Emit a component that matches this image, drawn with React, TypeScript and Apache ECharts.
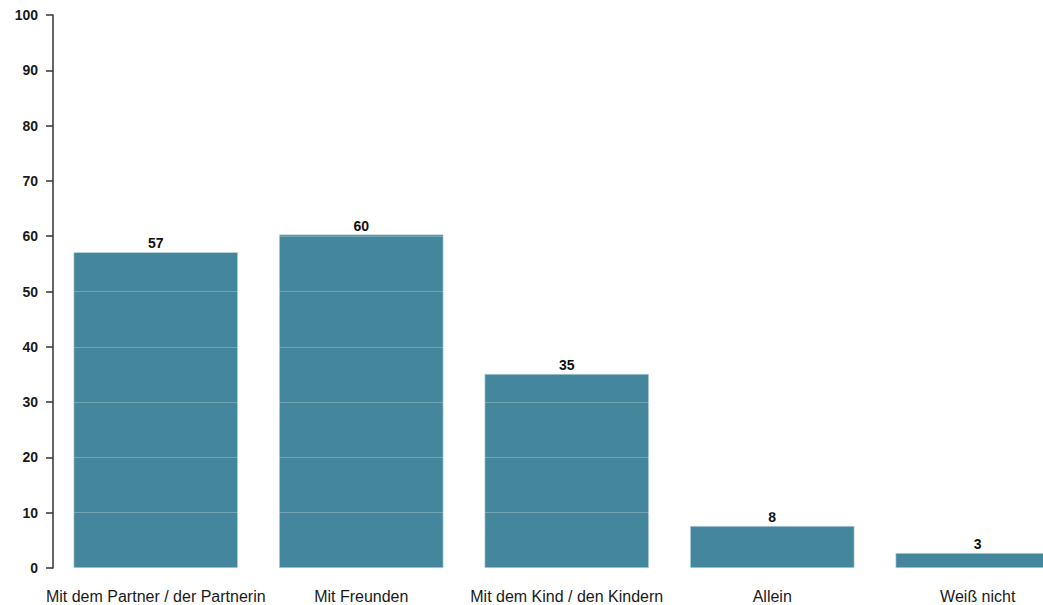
import React, { useEffect, useRef } from "react";
import * as echarts from "echarts";

const categories = [
  "Mit dem Partner / der Partnerin",
  "Mit Freunden",
  "Mit dem Kind / den Kindern",
  "Allein",
  "Weiß nicht",
];
const values = [57.1, 60.3, 35.1, 7.6, 2.7];
const yTicks = { min: 0, max: 100, interval: 10 };

export default function App() {
  const ref = useRef<HTMLDivElement>(null);
  useEffect(() => {
    if (!ref.current) return;
    const chart = echarts.init(ref.current, null, { renderer: "svg" });
    chart.setOption({
      animation: false,
      textStyle: { fontFamily: "Liberation Sans, Arial, sans-serif" },
      grid: { left: 53, top: 15, width: 1027.5, height: 553, containLabel: false },
      xAxis: {
        type: "category",
        data: categories,
        axisLine: { show: false },
        axisTick: { show: false },
        axisLabel: {
          color: "#1a1a1a",
          fontSize: 16,
          margin: 20,
          interval: 0,
        },
      },
      yAxis: {
        type: "value",
        min: yTicks.min,
        max: yTicks.max,
        interval: yTicks.interval,
        z: 10,
        axisLine: { show: true, lineStyle: { color: "#333", width: 1.5 } },
        axisTick: { show: true, length: 7, lineStyle: { color: "#333", width: 1.5 } },
        axisLabel: { color: "#1a1a1a", fontSize: 14, fontWeight: "bold", margin: 15 },
        splitLine: { show: true, lineStyle: { color: "rgba(255,255,255,0.25)", width: 1 } },
      },
      series: [
        {
          type: "bar",
          data: values,
          barWidth: "80%",
          itemStyle: { color: "#44869b", borderColor: "#c8dde3", borderWidth: 0.6 },
          label: {
            show: true,
            position: "top",
            distance: 2,
            color: "#111",
            fontSize: 14,
            fontWeight: "bold",
            formatter: (p: any) => String(Math.round(p.value)),
          },
        },
      ],
    });
    return () => chart.dispose();
  }, []);
  return (
    <div style={{ position: "fixed", left: 0, top: 0, width: 1043, height: 605, overflow: "hidden", background: "#fff" }}>
      <div ref={ref} style={{ width: 1100, height: 605 }} />
    </div>
  );
}
